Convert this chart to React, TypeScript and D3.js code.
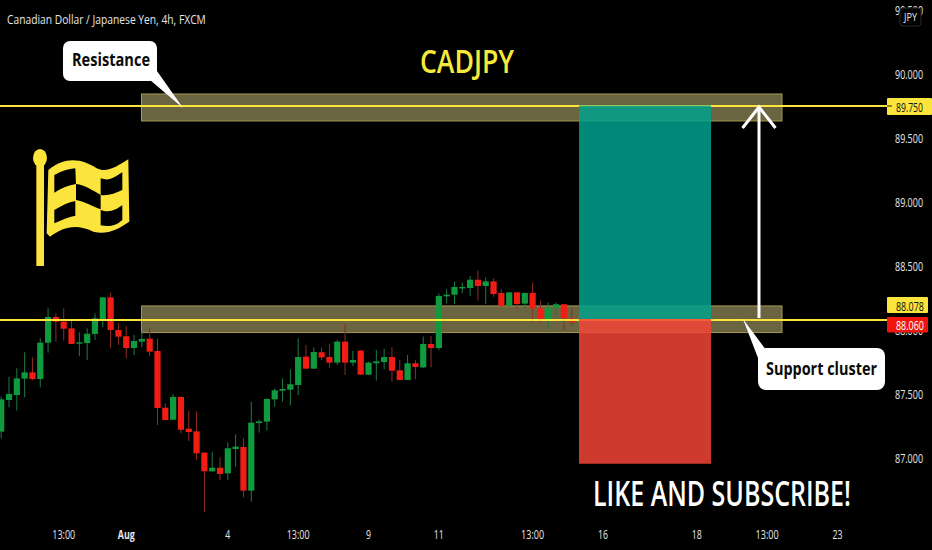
import React, { useLayoutEffect, useRef } from "react";
import * as d3 from "d3";

const opens = [87.206,87.453,87.492,87.620,87.669,87.617,87.901,88.102,88.065,88.013,87.893,87.898,87.969,88.083,88.255,88.000,87.951,87.859,87.909,87.932,87.836,87.393,87.299,87.477,87.229,87.208,87.042,86.896,86.924,86.880,87.070,87.086,86.745,87.273,87.284,87.458,87.526,87.534,87.570,87.792,87.698,87.826,87.789,87.745,87.909,87.745,87.839,87.651,87.740,87.750,87.789,87.685,87.609,87.740,87.708,87.891,87.859,88.263,88.276,88.328,88.328,88.393,88.344,88.380,88.289,88.188,88.294,88.206,88.289,88.169,88.086,88.174,88.201,88.091];
const highs = [87.479,87.635,87.701,87.826,87.786,87.935,88.169,88.130,88.169,88.083,87.982,88.013,88.130,88.255,88.292,88.057,88.031,87.961,87.987,88.013,87.935,87.427,87.500,87.479,87.370,87.365,87.042,87.049,87.005,87.120,87.185,87.154,87.440,87.302,87.466,87.544,87.622,87.693,87.935,87.883,87.865,87.865,87.891,87.922,88.047,87.836,87.844,87.753,87.844,87.852,87.865,87.766,87.805,87.766,87.948,87.953,88.286,88.318,88.378,88.370,88.422,88.464,88.411,88.404,88.318,88.294,88.294,88.294,88.372,88.229,88.214,88.214,88.201,88.169];
const lows = [87.154,87.396,87.370,87.474,87.609,87.552,87.823,87.909,87.917,87.891,87.797,87.766,87.922,88.021,87.857,87.883,87.779,87.805,87.865,87.797,87.258,87.297,87.299,87.193,87.133,86.984,86.578,86.893,86.828,86.828,86.932,86.693,86.659,87.198,87.214,87.401,87.440,87.411,87.492,87.698,87.698,87.766,87.701,87.727,87.648,87.719,87.651,87.648,87.604,87.695,87.596,87.609,87.609,87.615,87.701,87.708,87.844,88.208,88.203,88.286,88.266,88.229,88.203,88.260,88.182,88.182,88.169,88.169,88.057,88.052,88.013,88.117,88.000,88.039];
const closes = [87.458,87.500,87.622,87.669,87.617,87.901,88.102,88.065,88.010,87.891,87.904,87.971,88.091,88.255,88.000,87.948,87.859,87.914,87.930,87.831,87.391,87.297,87.477,87.221,87.203,87.036,86.896,86.924,86.875,87.076,87.089,86.745,87.276,87.286,87.461,87.529,87.539,87.576,87.789,87.698,87.828,87.786,87.745,87.909,87.745,87.766,87.651,87.745,87.755,87.789,87.682,87.609,87.740,87.711,87.891,87.859,88.266,88.276,88.336,88.336,88.393,88.344,88.380,88.281,88.188,88.294,88.203,88.289,88.169,88.083,88.174,88.201,88.091,88.060];

const priceTicks = [87, 87.5, 88, 88.5, 89, 89.5, 90, 90.5];
const timeLabels = ["13:00", "Aug", "4", "13:00", "9", "11", "13:00", "16", "18", "13:00", "23"];
const timeIndex = [8, 16, 29, 38, 47, 56, 68, 77, 89, 98, 107];

const resistanceLevel = 89.75;
const resistanceBand = [89.633, 89.844];
const supportLevel = 88.078;
const supportBand = [87.98, 88.188];
const lastPrice = 88.06;
const targetLevel = 89.754;
const splitLevel = 88.086;
const stopLevel = 86.955;

const W = 932;
const H = 550;
const FONT = "'Open Sans', sans-serif";
const yellow = "#fbe43c";

const y = d3.scaleLinear().domain([87, 90]).range([458, 74]);
const x = d3.scaleLinear().domain([0, 73]).range([1.2, 571.7]);
const fmt = d3.format(".3f");

type TP = { x: number; y: number; w: number; size: number; fill: string; weight?: number; children: string };
// Draws text squeezed horizontally so that it spans exactly w pixels.
function T({ x: tx, y: ty, w, size, fill, weight = 400, children }: TP) {
  const ref = useRef<SVGTextElement>(null);
  useLayoutEffect(() => {
    const el = ref.current;
    if (!el) return;
    const natural = el.getComputedTextLength();
    el.setAttribute("transform", `translate(${tx},${ty}) scale(${w / natural},1)`);
  });
  return (
    <text ref={ref} transform={`translate(${tx},${ty}) scale(0.75,1)`} fontFamily={FONT} fontSize={size} fontWeight={weight} fill={fill} dominantBaseline="central">
      {children}
    </text>
  );
}

function Flag() {
  return (
    <g transform="scale(0.3333)">
      <ellipse cx={120} cy={474} rx={21} ry={27} fill={yellow} />
      <rect x={109} y={480} width={23} height={318} fill={yellow} />
      <path d="M145 510 C200 465 250 480 290 505 C320 520 350 500 385 478 L388 665 C350 690 320 705 280 695 C230 670 190 680 150 710 L140 700 Z" fill={yellow} />
      <path d="M163 525 C185 512 205 507 226 505 L228 552 C205 555 185 565 163 578 Z" fill="#000" />
      <path d="M228 552 C255 555 280 572 302 585 L302 628 C280 620 255 605 228 600 Z" fill="#000" />
      <path d="M302 535 C330 545 345 530 367 517 L367 570 C345 580 325 588 302 585 Z" fill="#000" />
      <path d="M163 630 C185 617 205 606 226 603 L226 647 C205 650 185 660 163 670 Z" fill="#000" />
      <path d="M302 630 C330 640 350 628 367 615 L367 660 C345 680 325 680 302 676 Z" fill="#000" />
    </g>
  );
}

export default function App() {
  const bandW = 6.2;
  return (
    <svg width={W} height={H} viewBox={`0 0 ${W} ${H}`} style={{ position: "absolute", left: 0, top: 0, background: "#000" }}>
      <rect width={W} height={H} fill="#000" />

      {[resistanceBand, supportBand].map((b, i) => (
        <rect key={i} x={141.5} y={y(b[1])} width={640.5} height={y(b[0]) - y(b[1])} fill="#6b6440" stroke="#a39a52" strokeWidth={1} />
      ))}

      {opens.map((o, i) => {
        const c = closes[i];
        const up = c >= o;
        const top = y(Math.max(o, c));
        const bot = y(Math.min(o, c));
        return (
          <g key={i}>
            <line x1={x(i)} x2={x(i)} y1={y(highs[i])} y2={y(lows[i])} stroke={up ? "#1f7a45" : "#8f2d22"} strokeWidth={1} />
            <rect x={x(i) - bandW / 2} y={top} width={bandW} height={Math.max(bot - top, 1.4)} fill={up ? "#0f9b3d" : "#f11c14"} />
          </g>
        );
      })}

      {[resistanceLevel, supportLevel].map((l) => (
        <line key={l} x1={0} x2={887} y1={y(l)} y2={y(l)} stroke={yellow} strokeWidth={2} />
      ))}

      <rect x={579} y={y(targetLevel)} width={132} height={y(splitLevel) - y(targetLevel)} fill="#00a18d" fillOpacity={0.85} />
      <rect x={579} y={y(splitLevel)} width={132} height={y(stopLevel) - y(splitLevel)} fill="#f34436" fillOpacity={0.85} />

      <g stroke="#fff" strokeWidth={3} fill="none">
        <line x1={759} x2={759} y1={318} y2={y(resistanceLevel)} />
        <path d="M742.5 128 L759 107 L775.5 128" />
      </g>

      <path d="M150 80 L157 71 L183 108 Z" fill="#fff" />
      <rect x={63} y={41} width={94} height={40} rx={7} fill="#fff" />
      <T x={72} y={60} w={78} size={17} fill="#0a0a0a" weight={700}>Resistance</T>

      <path d="M743 319 L766 350 L758 358 Z" fill="#fff" />
      <rect x={758} y={348} width={127} height={42} rx={8} fill="#fff" />
      <T x={766} y={368} w={111} size={18} fill="#0a0a0a" weight={700}>Support cluster</T>

      <T x={7} y={18} w={199} size={13} fill="#e6e6e6" weight={500}>Canadian Dollar / Japanese Yen, 4h, FXCM</T>
      <T x={420} y={60} w={94} size={33} fill="#f7e93a" weight={600}>CADJPY</T>
      <T x={593} y={492} w={258} size={35} fill="#fff" weight={600}>LIKE AND SUBSCRIBE!</T>

      <Flag />

      {priceTicks.map((p) => (
        <T key={p} x={895} y={y(p)} w={28} size={12.5} fill="#e6e6e6">{fmt(p)}</T>
      ))}

      {timeLabels.map((t, i) => {
        const w = t === "13:00" ? 23 : t === "Aug" ? 17 : t.length === 1 ? 5 : 10;
        return (
          <T key={i} x={x(timeIndex[i]) - w / 2} y={534} w={w} size={12.5} fill="#e6e6e6" weight={t === "Aug" ? 700 : 400}>{t}</T>
        );
      })}

      <rect x={900} y={8} width={21} height={18} rx={3} fill="#000" stroke="#2a2a2a" />
      <T x={904} y={17} w={13} size={11.5} fill="#e6e6e6">JPY</T>

      <rect x={887} y={98} width={45} height={17} rx={1} fill={yellow} />
      <line x1={887} x2={892} y1={y(resistanceLevel)} y2={y(resistanceLevel)} stroke="#222" />
      <T x={896} y={106.5} w={27} size={13} fill="#111" weight={500}>{fmt(resistanceLevel)}</T>

      <rect x={887} y={297} width={41} height={16} rx={1} fill={yellow} />
      <T x={896} y={305.5} w={28} size={13} fill="#111" weight={500}>{fmt(supportLevel)}</T>
      <rect x={887} y={317} width={41} height={15.5} rx={1} fill="#f0160f" />
      <T x={896} y={324.5} w={28} size={13} fill="#fff" weight={500}>{fmt(lastPrice)}</T>
    </svg>
  );
}
